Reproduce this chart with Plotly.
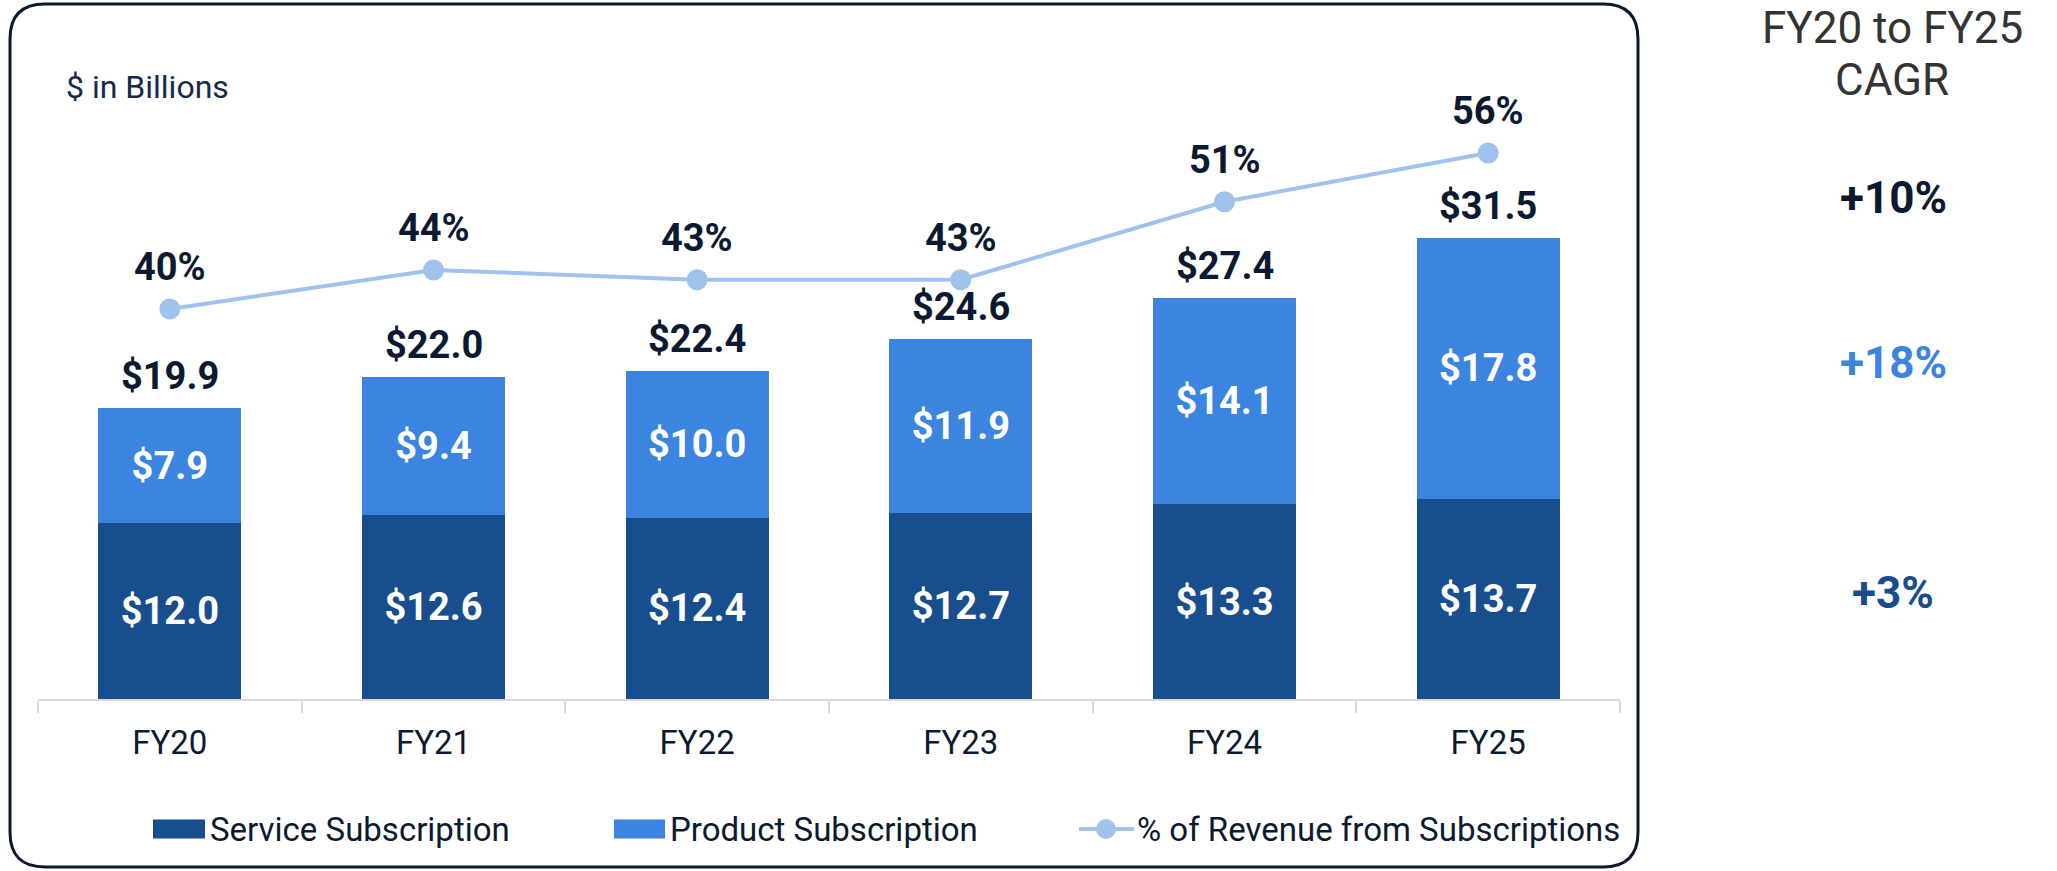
import plotly.graph_objects as go

# ---------------- data ----------------
years = ["FY20", "FY21", "FY22", "FY23", "FY24", "FY25"]
service = [12.0, 12.6, 12.4, 12.7, 13.3, 13.7]
product = [7.9, 9.4, 10.0, 11.9, 14.1, 17.8]
totals = [19.9, 22.0, 22.4, 24.6, 27.4, 31.5]
pct = [40, 44, 43, 43, 51, 56]
cagr_labels = ["+10%", "+18%", "+3%"]
legend_names = ["Service Subscription", "Product Subscription", "% of Revenue from Subscriptions"]

# ---------------- style ----------------
W, H = 2057, 871
L, R, T, B = 38, 437, 80, 172
PW, PH = W - L - R, H - T - B
BASE = H - B
PX_PER_B = 14.63
PX_PER_PCT = 9.75

C_SERV = "#184D8E"
C_PROD = "#3B84E0"
C_LINE = "#A0C3EE"
C_TEXT = "#0B1A30"
FONT = "Roboto"


def fx(px):
    return (px - L) / PW


def fy(py):
    return (BASE - py) / PH


fig = go.Figure()
fig.add_trace(go.Bar(
    x=years, y=service, name=legend_names[0], marker=dict(color=C_SERV, line=dict(width=0)),
    text=[f"${v:.1f}" for v in service], textposition="inside", insidetextanchor="middle",
    textangle=0, textfont=dict(family=FONT, size=38, color="white", weight="bold"),
    showlegend=False, hoverinfo="skip",
))
fig.add_trace(go.Bar(
    x=years, y=product, name=legend_names[1], marker=dict(color=C_PROD, line=dict(width=0)),
    text=[f"${v:.1f}" for v in product], textposition="inside", insidetextanchor="middle",
    textangle=0, textfont=dict(family=FONT, size=38, color="white", weight="bold"),
    showlegend=False, hoverinfo="skip",
))
fig.add_trace(go.Scatter(
    x=years, y=pct, yaxis="y2", mode="lines+markers", name=legend_names[2],
    line=dict(color=C_LINE, width=4), marker=dict(color=C_LINE, size=21),
    showlegend=False, hoverinfo="skip",
))

annotations = []
for yr, tot in zip(years, totals):
    annotations.append(dict(x=yr, y=tot, xref="x", yref="y", text=f"<b>${tot:.1f}</b>",
                            showarrow=False, yanchor="middle", yshift=32,
                            font=dict(family=FONT, size=38, color=C_TEXT)))
for yr, p in zip(years, pct):
    annotations.append(dict(x=yr, y=p, xref="x", yref="y2", text=f"<b>{p}%</b>",
                            showarrow=False, yanchor="middle", yshift=42,
                            font=dict(family=FONT, size=38, color=C_TEXT)))

# "$ in Billions"
annotations.append(dict(x=fx(64), y=fy(87), xref="paper", yref="paper", text="$ in Billions",
                        showarrow=False, xanchor="left", yanchor="middle",
                        font=dict(family=FONT, size=32, color="#15294A")))

# CAGR column
annotations.append(dict(x=fx(1892), y=fy(28), xref="paper", yref="paper", text="FY20 to FY25",
                        showarrow=False, xanchor="center", yanchor="middle",
                        font=dict(family=FONT, size=44, color="#333333")))
annotations.append(dict(x=fx(1892), y=fy(80), xref="paper", yref="paper", text="CAGR",
                        showarrow=False, xanchor="center", yanchor="middle",
                        font=dict(family=FONT, size=44, color="#333333")))
for lab, col, py in zip(cagr_labels, [C_TEXT, C_PROD, C_SERV], [198, 363, 593]):
    annotations.append(dict(x=fx(1893), y=fy(py), xref="paper", yref="paper", text=f"<b>{lab}</b>",
                            showarrow=False, xanchor="center", yanchor="middle",
                            font=dict(family=FONT, size=44, color=col)))

# manual legend
LEG_Y = 829
shapes = []
for (x0, x1), col, tx, name in [((153, 205), C_SERV, 208, legend_names[0]),
                                ((614, 665), C_PROD, 668, legend_names[1])]:
    shapes.append(dict(type="rect", xref="paper", yref="paper", x0=fx(x0), x1=fx(x1),
                       y0=fy(LEG_Y - 9.5), y1=fy(LEG_Y + 9.5), fillcolor=col, line=dict(width=0)))
    annotations.append(dict(x=fx(tx), y=fy(LEG_Y), xref="paper", yref="paper", text=name,
                            showarrow=False, xanchor="left", yanchor="middle",
                            font=dict(family=FONT, size=33, color=C_TEXT)))
shapes.append(dict(type="line", xref="paper", yref="paper", x0=fx(1079), x1=fx(1134),
                   y0=fy(LEG_Y), y1=fy(LEG_Y), line=dict(color=C_LINE, width=4)))
shapes.append(dict(type="circle", xref="paper", yref="paper", x0=fx(1096), x1=fx(1116),
                   y0=fy(LEG_Y + 10), y1=fy(LEG_Y - 10), fillcolor=C_LINE, line=dict(width=0)))
annotations.append(dict(x=fx(1135), y=fy(LEG_Y), xref="paper", yref="paper", text=legend_names[2],
                        showarrow=False, xanchor="left", yanchor="middle",
                        font=dict(family=FONT, size=33, color=C_TEXT)))

# rounded frame
bx0, by0, bx1, by1, r = 10, 4, 1638, 867, 35
pts = [
    ("M", [(bx0 + r, by0)]), ("L", [(bx1 - r, by0)]), ("Q", [(bx1, by0), (bx1, by0 + r)]),
    ("L", [(bx1, by1 - r)]), ("Q", [(bx1, by1), (bx1 - r, by1)]),
    ("L", [(bx0 + r, by1)]), ("Q", [(bx0, by1), (bx0, by1 - r)]),
    ("L", [(bx0, by0 + r)]), ("Q", [(bx0, by0), (bx0 + r, by0)]),
]
path = " ".join(cmd + " " + " ".join(f"{fx(a):.5f},{fy(b):.5f}" for a, b in p) for cmd, p in pts) + " Z"
shapes.append(dict(type="path", xref="paper", yref="paper", path=path,
                   line=dict(color="#0D1A2E", width=3), fillcolor="rgba(0,0,0,0)"))

fig.update_layout(
    width=W, height=H, autosize=False,
    margin=dict(l=L, r=R, t=T, b=B, pad=0),
    paper_bgcolor="white", plot_bgcolor="white",
    barmode="stack", bargap=0.458,
    showlegend=False,
    xaxis=dict(type="category", range=[-0.5, 5.5], showline=True, linecolor="#D9D9D9", linewidth=2,
               ticks="outside", tickson="boundaries", ticklen=12, tickwidth=2, tickcolor="#D9D9D9",
               tickfont=dict(family=FONT, size=33, color=C_TEXT), showgrid=False, zeroline=False,
               ticklabelstandoff=13, fixedrange=True),
    yaxis=dict(range=[0, PH / PX_PER_B], visible=False, fixedrange=True),
    yaxis2=dict(range=[0, PH / PX_PER_PCT], overlaying="y", visible=False, fixedrange=True),
    annotations=annotations, shapes=shapes,
)

fig.write_html("out.html", config={"displayModeBar": False},
               post_script="document.body.style.margin='0px';document.body.style.overflow='hidden';")
